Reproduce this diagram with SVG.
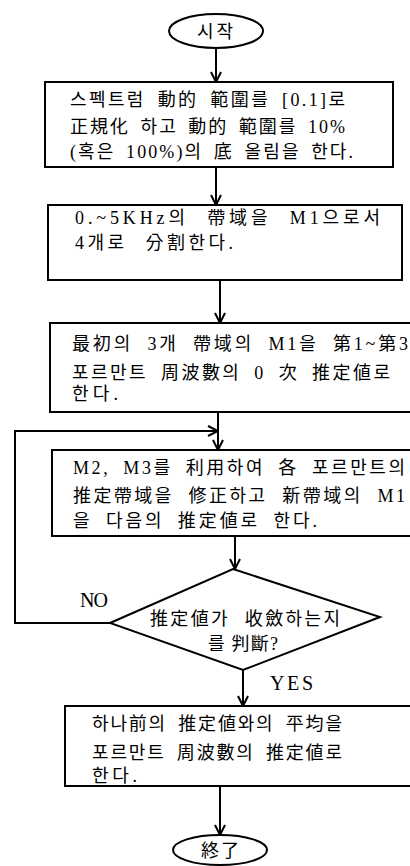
<svg xmlns="http://www.w3.org/2000/svg" width="410" height="866" viewBox="0 0 410 866">
<style>
.s{fill:none;stroke:#000;stroke-width:2}
.b{fill:#fff;stroke:#000;stroke-width:2}
text{font-family:"Liberation Serif","Noto Sans CJK KR",serif;font-size:18px;fill:#000}
.lb{font-size:20px}
</style>
<defs>
<marker id="ah" viewBox="0 0 12 12" refX="11" refY="6" markerWidth="12" markerHeight="12" markerUnits="userSpaceOnUse" orient="auto">
<path d="M1,1 L11,6 L1,11" fill="none" stroke="#000" stroke-width="2"/>
</marker>
</defs>
<rect width="410" height="866" fill="#fff"/>
<g id="connectors">
<path class="s" d="M216,48 V82" marker-end="url(#ah)"/>
<path class="s" d="M216,167 V205" marker-end="url(#ah)"/>
<path class="s" d="M220,280 V323" marker-end="url(#ah)"/>
<path class="s" d="M218,412 V450" marker-end="url(#ah)"/>
<path class="s" d="M110,623 H15 V431 H218" marker-end="url(#ah)"/>
<path class="s" d="M235,536 V569" marker-end="url(#ah)"/>
<path class="s" d="M243,670 V706" marker-end="url(#ah)"/>
<path class="s" d="M220,786 V835" marker-end="url(#ah)"/>
</g>
<g id="start">
<ellipse class="b" cx="216" cy="31" rx="47" ry="17"/>
<text x="197" y="38" textLength="36" lengthAdjust="spacing">시작</text>
</g>
<g id="box1">
<rect class="b" x="45" y="82" width="348" height="85"/>
<text x="70" y="106" style="word-spacing:5px" textLength="275" lengthAdjust="spacing">스펙트럼 動的 範圍를 [0.1]로</text>
<text x="70" y="133" style="word-spacing:4px" textLength="275" lengthAdjust="spacing">正規化 하고 動的 範圍를 10%</text>
<text x="70" y="158" style="word-spacing:4px" textLength="283" lengthAdjust="spacing">(혹은 100%)의 底 올림을 한다.</text>
</g>
<g id="box2">
<rect class="b" x="48" y="205" width="354" height="75"/>
<text x="75" y="224" style="word-spacing:10px" textLength="305" lengthAdjust="spacing">0.~5KHz의 帶域을 M1으로서</text>
<text x="75" y="249" style="word-spacing:10px" textLength="158" lengthAdjust="spacing">4개로 分割한다.</text>
</g>
<g id="box3">
<rect class="b" x="50" y="323" width="364" height="89"/>
<text x="72" y="350" style="word-spacing:7px" textLength="336" lengthAdjust="spacing">最初의 3개 帶域의 M1을 第1~第3</text>
<text x="72" y="379" style="word-spacing:6px" textLength="318" lengthAdjust="spacing">포르만트 周波數의 0 次 推定値로</text>
<text x="72" y="400" textLength="46" lengthAdjust="spacing">한다.</text>
</g>
<g id="box4">
<rect class="b" x="52" y="450" width="362" height="86"/>
<text x="73" y="474" style="word-spacing:6px" textLength="332" lengthAdjust="spacing">M2, M3를 利用하여 各 포르만트의</text>
<text x="73" y="502" style="word-spacing:8px" textLength="332" lengthAdjust="spacing">推定帶域을 修正하고 新帶域의 M1</text>
<text x="73" y="527" style="word-spacing:6px" textLength="244" lengthAdjust="spacing">을 다음의 推定値로 한다.</text>
</g>
<g id="decision">
<polygon class="b" points="233,569 380,617 243,670 110,623"/>
<text x="150" y="625" style="word-spacing:8px" textLength="190" lengthAdjust="spacing">推定値가 收斂하는지</text>
<text x="208" y="650" textLength="70" lengthAdjust="spacing">를 判斷?</text>
</g>
<g id="labels">
<text class="lb" x="80" y="607" textLength="28" lengthAdjust="spacing">NO</text>
<text class="lb" x="270" y="690" textLength="43" lengthAdjust="spacing">YES</text>
</g>
<g id="box5">
<rect class="b" x="65" y="706" width="349" height="80"/>
<text x="92" y="730" style="word-spacing:5px" textLength="250" lengthAdjust="spacing">하나前의 推定値와의 平均을</text>
<text x="92" y="759" style="word-spacing:5px" textLength="250" lengthAdjust="spacing">포르만트 周波數의 推定値로</text>
<text x="92" y="782" textLength="45" lengthAdjust="spacing">한다.</text>
</g>
<g id="end">
<ellipse class="b" cx="220" cy="850" rx="47" ry="15"/>
<text x="201" y="857" textLength="38" lengthAdjust="spacing">終了</text>
</g>
</svg>
